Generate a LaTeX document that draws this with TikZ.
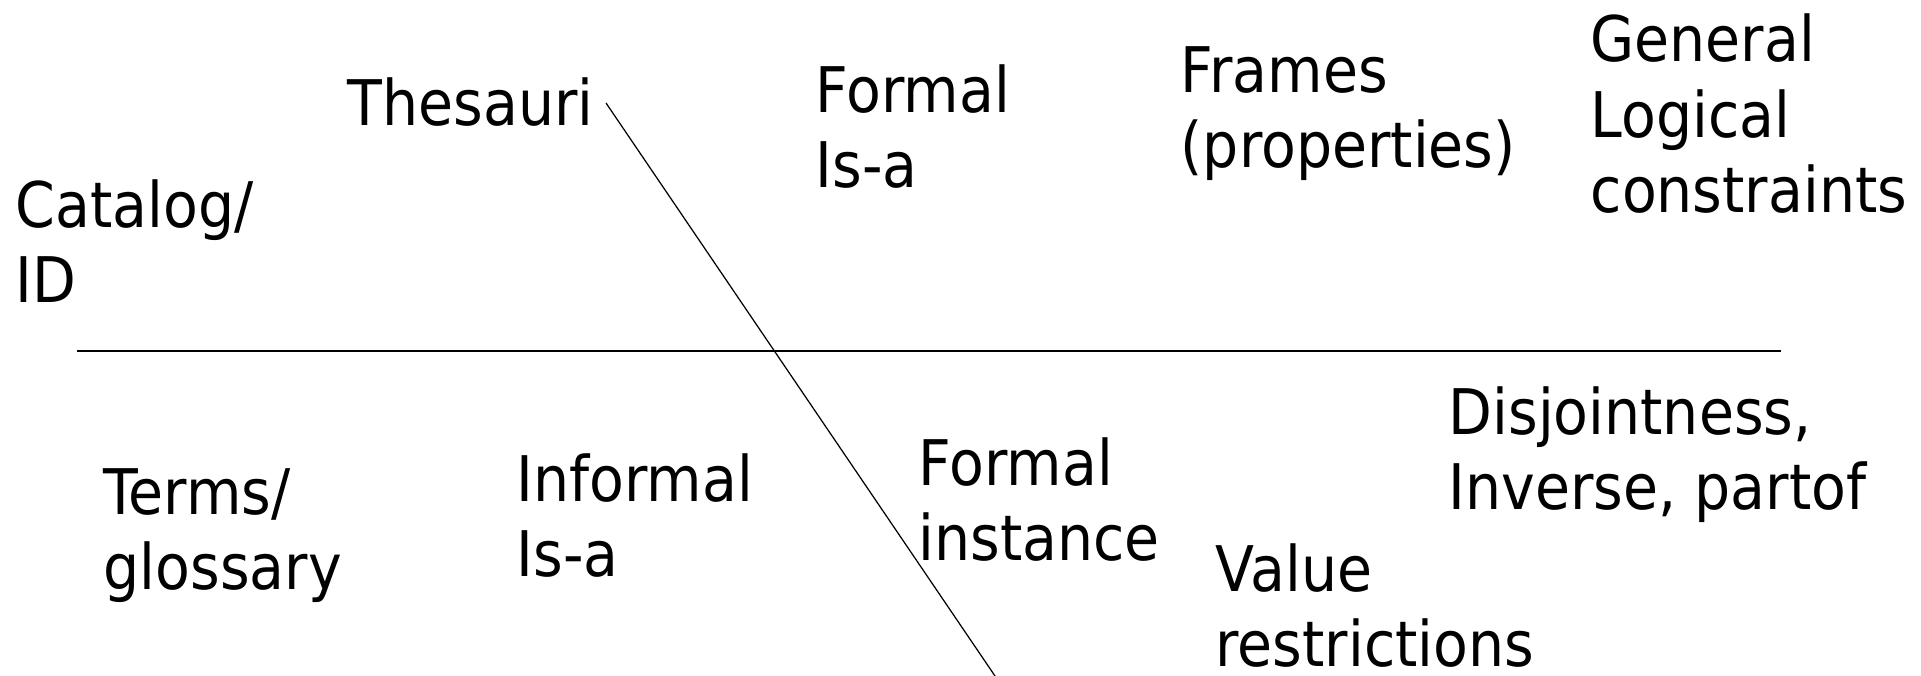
\documentclass[tikz,border=0pt]{standalone}
\usepackage{fontspec}
\setmainfont{DejaVu Sans}[FakeStretch=0.905]
\begin{document}
\begin{tikzpicture}[x=0.1mm,y=-0.1mm,
  lbl/.style={anchor=base west,inner sep=0pt,align=left,font=\fontsize{17.9pt}{21.6pt}\selectfont},
  hline/.style={line width=0.6pt},
  dline/.style={line width=0.35pt}]
\useasboundingbox (0,0) rectangle (1921,676);
% base anchor = baseline of the last line
\node[lbl] (thes) at (347,126) {Thesauri};
\node[lbl] (cat) at (15,303) {Catalog/\\ID};
\node[lbl] (fisa) at (815,188) {Formal\\Is-a};
\node[lbl] (frames) at (1180,168) {Frames\\(properties)};
\node[lbl] (gen) at (1590,213) {General\\Logical\\constraints};
\node[lbl] (terms) at (103,590) {Terms/\\glossary};
\node[lbl] (iisa) at (516,577) {Informal\\Is-a};
\node[lbl] (finst) at (918,561) {Formal\\instance};
\node[lbl] (disj) at (1448,510) {Disjointness,\\Inverse, partof};
\node[lbl] (val) at (1215,667) {Value\\restrictions};
\coordinate (hl) at (77,351);
\coordinate (hr) at (1781,351);
\coordinate (dt) at (606,103);
\coordinate (db) at (995,676);
\draw[hline] (hl) -- (hr);
\draw[dline] (dt) -- (db);
\end{tikzpicture}
\end{document}
